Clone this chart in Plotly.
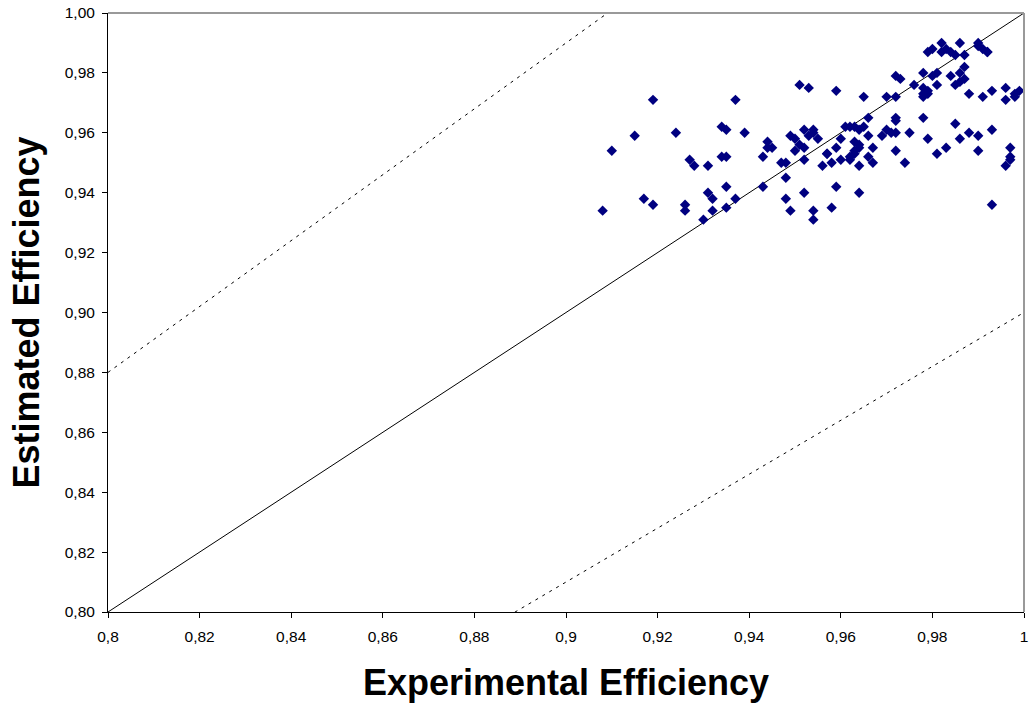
import plotly.graph_objects as go

# Experimental (x) vs estimated (y) efficiency
exp_eff = [0.908, 0.910, 0.915, 0.919, 0.917, 0.919, 0.924, 0.926, 0.926, 0.927,
           0.928, 0.931, 0.930, 0.931, 0.932, 0.932, 0.934, 0.935, 0.934, 0.935,
           0.935, 0.935, 0.937, 0.937, 0.939, 0.943, 0.944, 0.944, 0.945, 0.943,
           0.947, 0.948, 0.948, 0.948, 0.949, 0.949, 0.950, 0.950, 0.951, 0.953,
           0.951, 0.952, 0.952, 0.953, 0.954, 0.954, 0.952, 0.952, 0.954, 0.954,
           0.955, 0.956, 0.957, 0.957, 0.958, 0.960, 0.958, 0.959, 0.959, 0.959,
           0.960, 0.961, 0.962, 0.963, 0.964, 0.965, 0.962, 0.962, 0.963, 0.963,
           0.964, 0.964, 0.963, 0.964, 0.964, 0.965, 0.966, 0.966, 0.966, 0.967,
           0.967, 0.969, 0.970, 0.970, 0.971, 0.972, 0.972, 0.972, 0.972, 0.972,
           0.972, 0.973, 0.974, 0.975, 0.976, 0.978, 0.978, 0.978, 0.978, 0.978,
           0.979, 0.979, 0.979, 0.979, 0.980, 0.980, 0.981, 0.981, 0.981, 0.982,
           0.982, 0.983, 0.983, 0.984, 0.985, 0.984, 0.985, 0.985, 0.986, 0.986,
           0.986, 0.987, 0.987, 0.986, 0.987, 0.988, 0.988, 0.990, 0.990, 0.990,
           0.990, 0.991, 0.992, 0.992, 0.991, 0.993, 0.993, 0.993, 0.996, 0.996,
           0.997, 0.997, 0.996, 0.997, 0.998, 0.998, 0.999]
est_eff = [0.934, 0.954, 0.959, 0.971, 0.938, 0.936, 0.960, 0.936, 0.934, 0.951,
           0.949, 0.949, 0.931, 0.940, 0.938, 0.934, 0.952, 0.952, 0.962, 0.961,
           0.935, 0.942, 0.971, 0.938, 0.960, 0.942, 0.957, 0.955, 0.955, 0.952,
           0.950, 0.950, 0.945, 0.938, 0.934, 0.959, 0.958, 0.954, 0.976, 0.975,
           0.956, 0.955, 0.961, 0.959, 0.960, 0.961, 0.951, 0.940, 0.934, 0.931,
           0.958, 0.949, 0.953, 0.953, 0.950, 0.951, 0.935, 0.942, 0.974, 0.955,
           0.958, 0.962, 0.962, 0.962, 0.961, 0.962, 0.951, 0.952, 0.953, 0.957,
           0.956, 0.955, 0.954, 0.949, 0.940, 0.972, 0.959, 0.965, 0.952, 0.955,
           0.950, 0.959, 0.972, 0.961, 0.960, 0.960, 0.972, 0.965, 0.964, 0.954,
           0.979, 0.978, 0.950, 0.960, 0.976, 0.980, 0.972, 0.973, 0.965, 0.975,
           0.974, 0.973, 0.958, 0.987, 0.988, 0.979, 0.976, 0.953, 0.980, 0.987,
           0.990, 0.955, 0.988, 0.987, 0.986, 0.979, 0.963, 0.976, 0.958, 0.990,
           0.980, 0.982, 0.978, 0.977, 0.986, 0.973, 0.960, 0.959, 0.954, 0.990,
           0.989, 0.988, 0.987, 0.987, 0.972, 0.936, 0.961, 0.974, 0.971, 0.975,
           0.952, 0.951, 0.949, 0.955, 0.972, 0.973, 0.974]

# Reference lines: y = x and +/-10 % bounds
ref_x = [0.8, 1.0]
ref_factors = {"ident": 1.0, "upper": 1.1, "lower": 0.9}

x_ticks = [0.8, 0.82, 0.84, 0.86, 0.88, 0.9, 0.92, 0.94, 0.96, 0.98, 1.0]
x_ticktext = ["0,8", "0,82", "0,84", "0,86", "0,88", "0,9", "0,92", "0,94", "0,96", "0,98", "1"]
y_ticks = [0.80, 0.82, 0.84, 0.86, 0.88, 0.90, 0.92, 0.94, 0.96, 0.98, 1.00]
y_ticktext = ["0,80", "0,82", "0,84", "0,86", "0,88", "0,90", "0,92", "0,94", "0,96", "0,98", "1,00"]

fig = go.Figure()

fig.add_trace(go.Scatter(
    x=ref_x, y=[v * ref_factors["upper"] for v in ref_x], mode="lines",
    line=dict(color="black", width=1, dash="3px,5px"), hoverinfo="skip", showlegend=False))
fig.add_trace(go.Scatter(
    x=ref_x, y=[v * ref_factors["lower"] for v in ref_x], mode="lines",
    line=dict(color="black", width=1, dash="3px,5px"), hoverinfo="skip", showlegend=False))
fig.add_trace(go.Scatter(
    x=ref_x, y=[v * ref_factors["ident"] for v in ref_x], mode="lines",
    line=dict(color="black", width=1), hoverinfo="skip", showlegend=False))

fig.add_trace(go.Scatter(
    x=exp_eff, y=est_eff, mode="markers",
    marker=dict(symbol="diamond", size=8, color="#000080", line=dict(width=0)),
    showlegend=False, cliponaxis=False))

font_family = "Liberation Sans, Arial, sans-serif"

fig.update_layout(
    width=1030, height=708,
    margin=dict(l=108, r=6, t=13, b=96, autoexpand=False),
    paper_bgcolor="white", plot_bgcolor="white",
    font=dict(family=font_family, color="black", size=15.5),
    showlegend=False,
    xaxis=dict(
        range=[0.8, 1.0], showgrid=False, zeroline=False, automargin=False,
        showline=True, linecolor="black", linewidth=1,
        ticks="outside", ticklen=5, tickcolor="black",
        tickvals=x_ticks, ticktext=x_ticktext, ticklabelstandoff=5,
        tickfont=dict(size=15.5),
        title=dict(text="<b>Experimental Efficiency</b>", font=dict(size=36), standoff=26),
    ),
    yaxis=dict(
        range=[0.8, 1.0], showgrid=False, zeroline=False, automargin=False,
        showline=True, linecolor="black", linewidth=1,
        ticks="outside", ticklen=5, tickcolor="black",
        tickvals=y_ticks, ticktext=y_ticktext, ticklabelstandoff=4,
        tickfont=dict(size=15.5),
        title=dict(text="<b>Estimated Efficiency</b>", font=dict(size=36), standoff=14),
    ),
    shapes=[
        dict(type="line", xref="paper", yref="paper", x0=0, x1=1, y0=1, y1=1,
             line=dict(color="#999999", width=2)),
        dict(type="line", xref="paper", yref="paper", x0=1, x1=1, y0=0, y1=1,
             line=dict(color="#999999", width=2)),
    ],
)

fig.write_html("out.html")
